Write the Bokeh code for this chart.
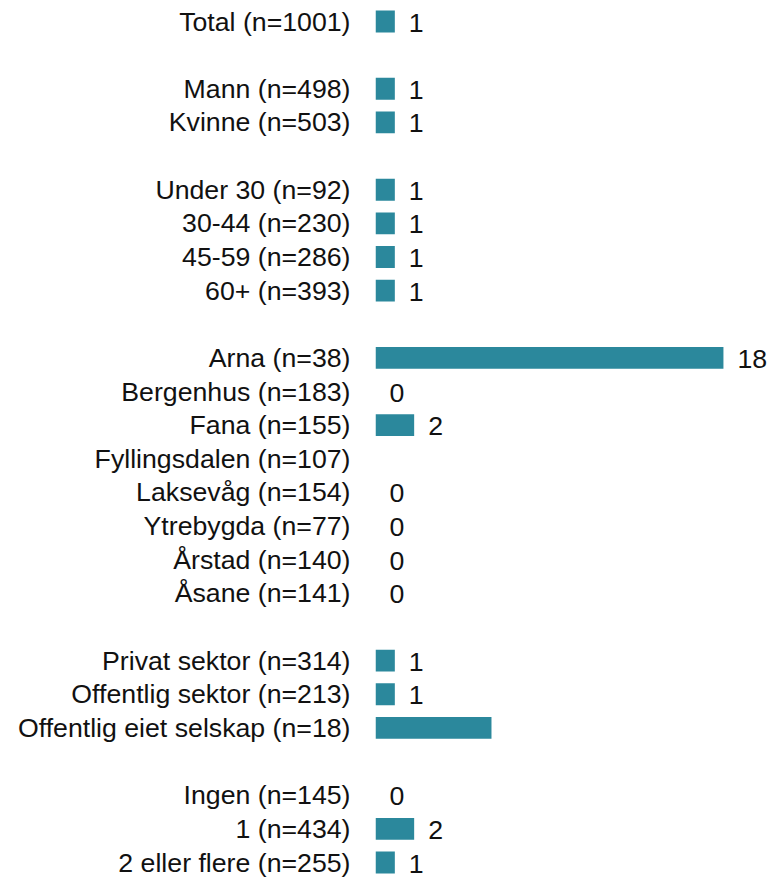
from bokeh.plotting import figure
from bokeh.models import ColumnDataSource, Range1d, FixedTicker
from bokeh.embed import file_html
from bokeh.resources import INLINE
from bokeh.core.properties import value

# Data (groups separated by blank rows)
group_total = ["Total (n=1001)"]
group_gender = ["Mann (n=498)", "Kvinne (n=503)"]
group_age = ["Under 30 (n=92)", "30-44 (n=230)", "45-59 (n=286)", "60+ (n=393)"]
group_district = ["Arna (n=38)", "Bergenhus (n=183)", "Fana (n=155)", "Fyllingsdalen (n=107)",
                  "Laksevåg (n=154)", "Ytrebygda (n=77)", "Årstad (n=140)", "Åsane (n=141)"]
group_sector = ["Privat sektor (n=314)", "Offentlig sektor (n=213)", "Offentlig eiet selskap (n=18)"]
group_children = ["Ingen (n=145)", "1 (n=434)", "2 eller flere (n=255)"]

val_total = [1]
val_gender = [1, 1]
val_age = [1, 1, 1, 1]
val_district = [18, 0, 2, None, 0, 0, 0, 0]
val_sector = [1, 1, 6]
val_children = [0, 2, 1]

lab_total = ["1"]
lab_gender = ["1", "1"]
lab_age = ["1", "1", "1", "1"]
lab_district = ["18", "0", "2", "", "0", "0", "0", "0"]
lab_sector = ["1", "1", ""]
lab_children = ["0", "2", "1"]

groups = [
    (group_total, val_total, lab_total),
    (group_gender, val_gender, lab_gender),
    (group_age, val_age, lab_age),
    (group_district, val_district, lab_district),
    (group_sector, val_sector, lab_sector),
    (group_children, val_children, lab_children),
]

cats, ys, vals, labs = [], [], [], []
row = 0
for gi, (c, v, l) in enumerate(groups):
    if gi > 0:
        row += 1
    for ci, vi, li in zip(c, v, l):
        cats.append(ci)
        ys.append(row)
        vals.append(vi if vi is not None else 0)
        labs.append(li)
        row += 1
nrows = row  # 26

W, H = 775, 877
row_px = 33.64
top_px = 21.0
y_end = -top_px / row_px
y_start = (nrows - 1) + (H - (top_px + (nrows - 1) * row_px)) / row_px

frame_left = 375
px_per_unit = 19.33
x_end = (W - frame_left) / px_per_unit

p = figure(width=W, height=H, output_backend="svg", toolbar_location=None,
           x_axis_type=None, x_range=Range1d(0, x_end),
           y_range=Range1d(y_start, y_end),
           min_border_left=frame_left, min_border_right=0,
           min_border_top=0, min_border_bottom=0)
p.outline_line_color = None
p.xgrid.visible = False
p.ygrid.visible = False
p.background_fill_color = "white"
p.border_fill_color = "white"

src = ColumnDataSource(dict(y=ys, v=vals, lab=labs))
p.hbar(y="y", left=0, right="v", height=0.65, source=src,
       fill_color="#2b889c", line_color=None)
p.text(x="v", y="y", text="lab", source=src, x_offset=14, y_offset=1,
       text_baseline="middle", text_align="left",
       text_font=value("Liberation Sans"), text_font_size="26.7px", text_color="#111111")

ax = p.yaxis[0]
ax.ticker = FixedTicker(ticks=ys, minor_ticks=[])
ax.major_label_overrides = {y: c for y, c in zip(ys, cats)}
ax.axis_line_color = None
ax.major_tick_line_color = None
ax.minor_tick_line_color = None
ax.major_tick_out = 0
ax.major_tick_in = 0
ax.major_label_standoff = 25
ax.major_label_text_font = "Liberation Sans"
ax.major_label_text_font_size = "26.7px"
ax.major_label_text_color = "#111111"

open("out.html", "w").write(file_html(p, INLINE))
